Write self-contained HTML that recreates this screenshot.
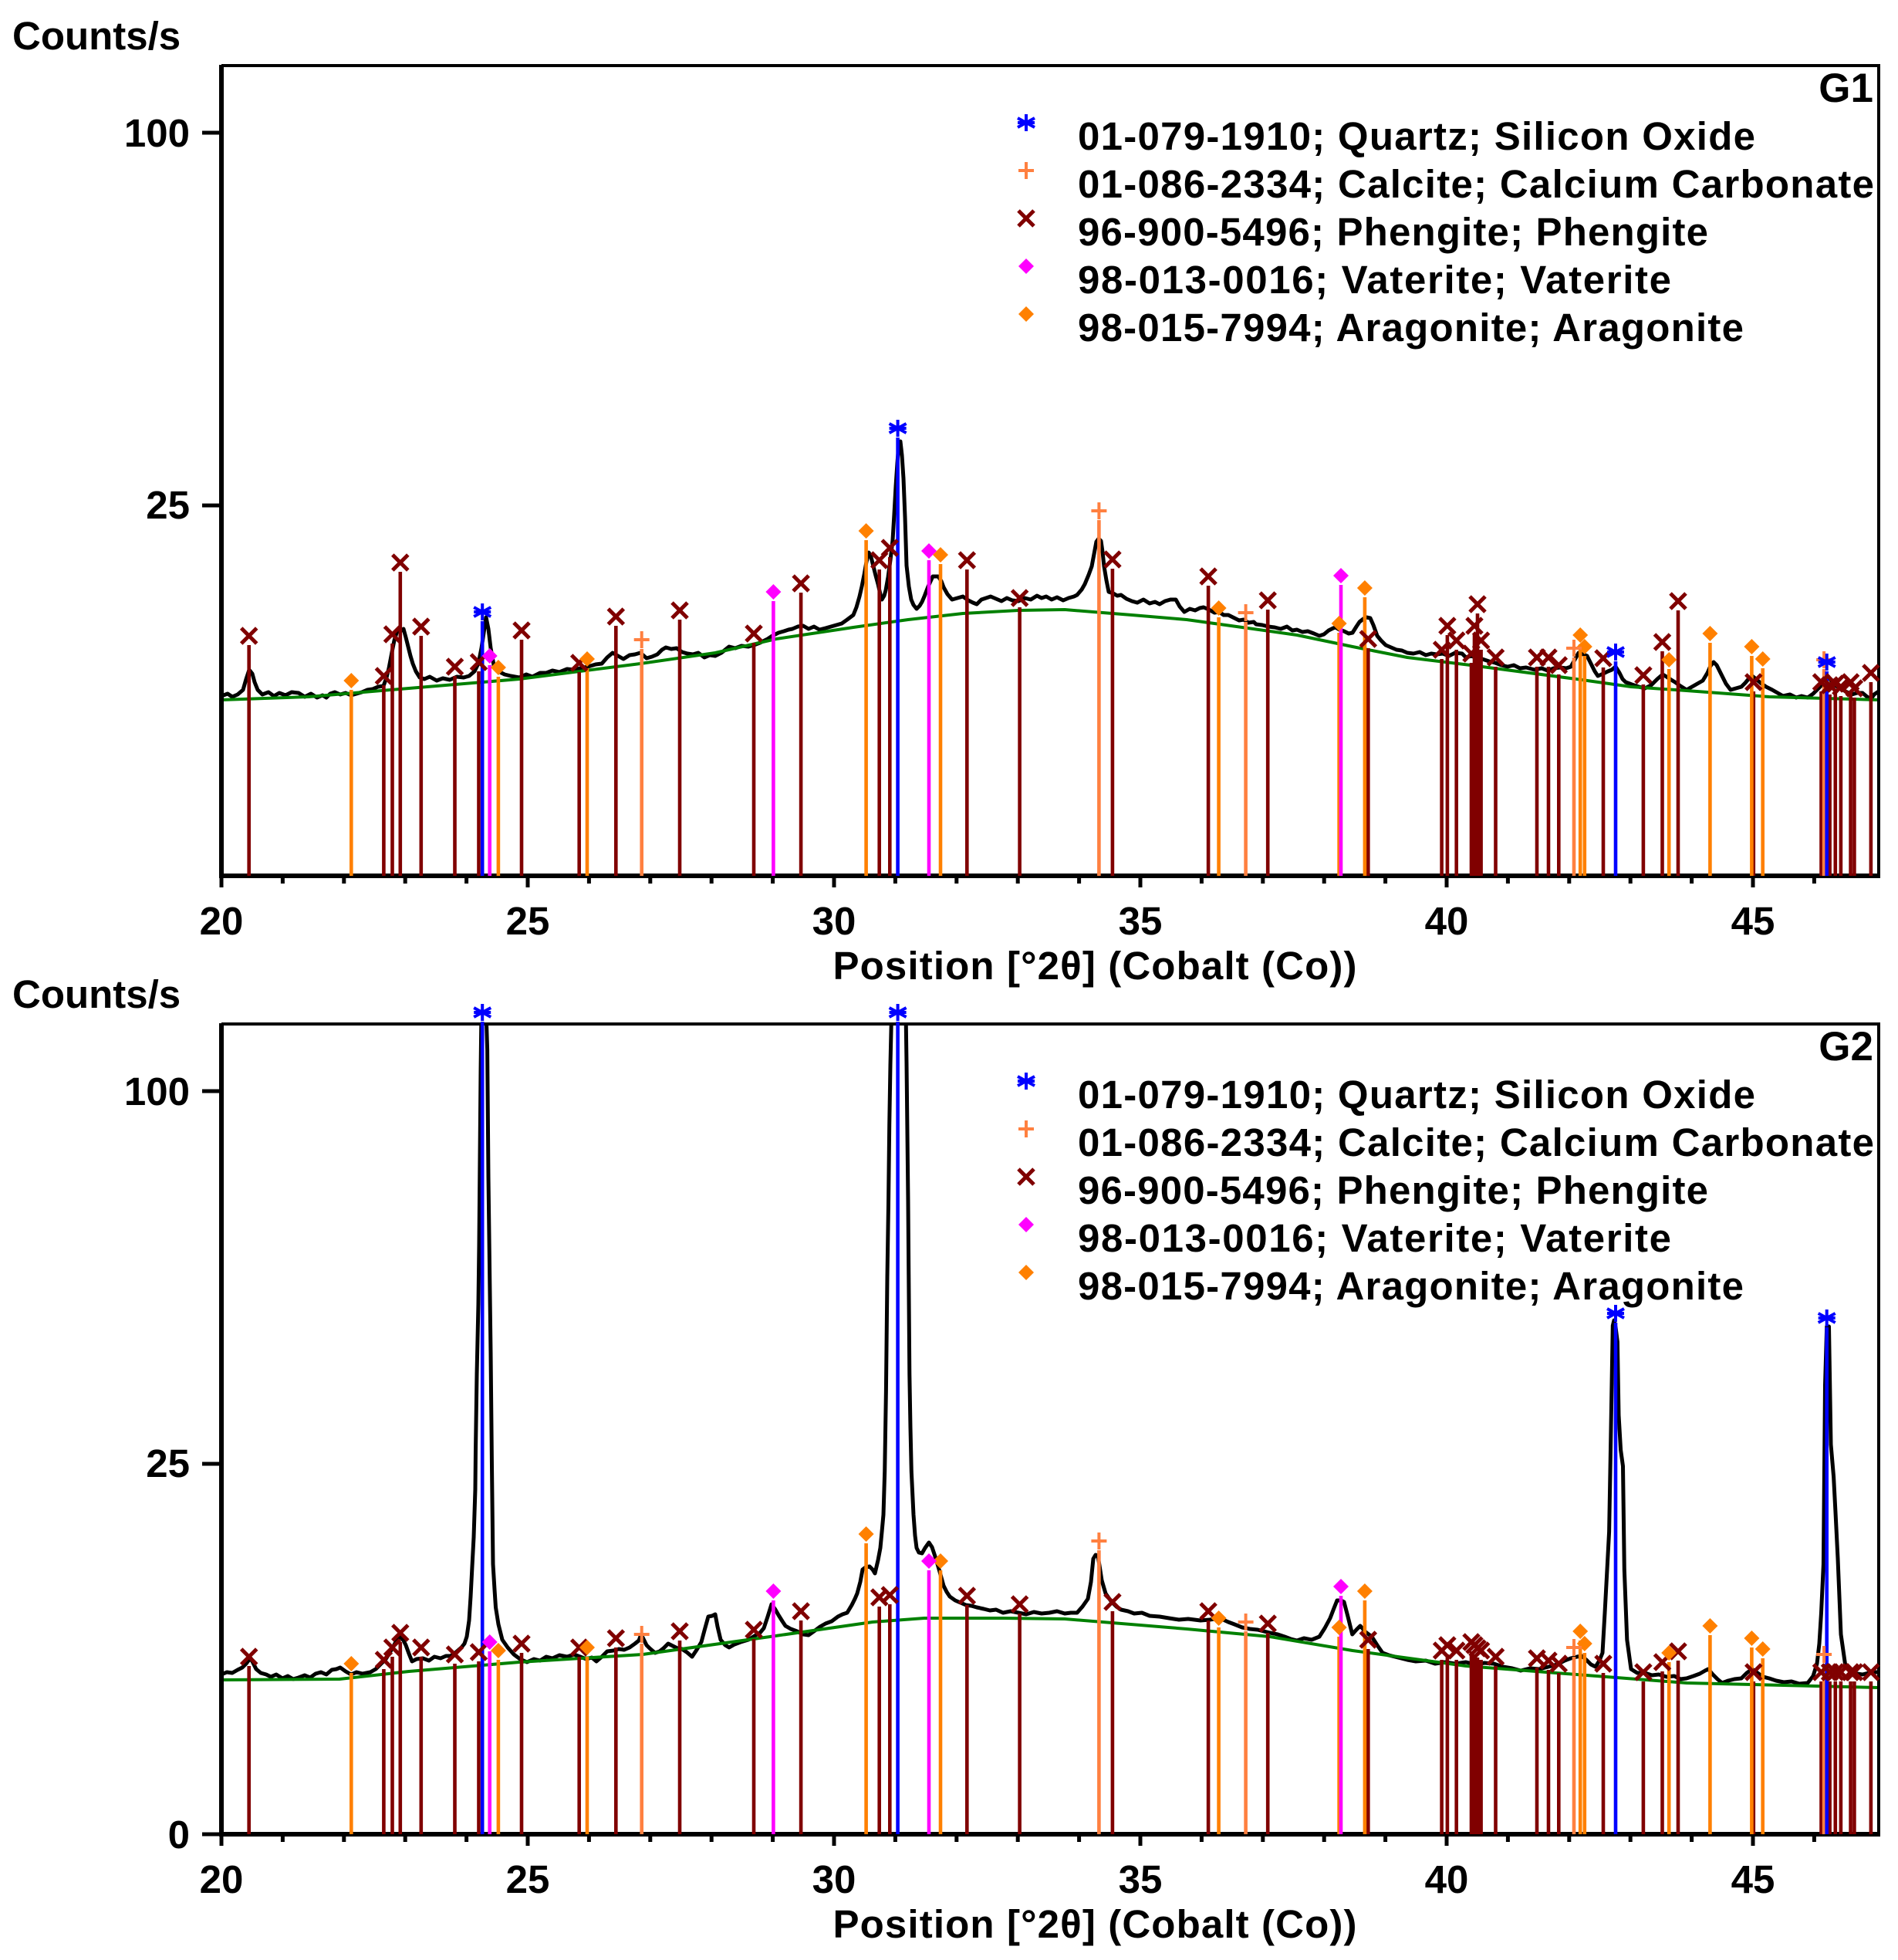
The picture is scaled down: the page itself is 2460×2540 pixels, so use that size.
<!DOCTYPE html>
<html><head><meta charset="utf-8"><style>html,body{margin:0;padding:0;background:#fff}svg{display:block}</style></head><body>
<svg xmlns="http://www.w3.org/2000/svg" xmlns:xlink="http://www.w3.org/1999/xlink" width="2460" height="2540" viewBox="0 0 2460 2540" font-family="'Liberation Sans', Arial, sans-serif" font-weight="bold">
<defs>
<clipPath id="c1"><rect x="287" y="85" width="2148" height="1050"/></clipPath>
<clipPath id="c2"><rect x="287" y="1327" width="2148" height="1050"/></clipPath>
<g id="mx" stroke="#800000" stroke-width="5" fill="none"><path d="M-10,-10L10,10M-10,10L10,-10"/></g>
<g id="mp" stroke="#FF8040" stroke-width="4" fill="none"><path d="M-10,0H10M0,-11V11"/></g>
<path id="mdv" d="M0,-10L10,0L0,10L-10,0Z" fill="#FF00FF"/>
<path id="mda" d="M0,-10L10,0L0,10L-10,0Z" fill="#FF8000"/>
<g id="mq" stroke="#0000FF" stroke-width="4" fill="none"><path d="M0,-11V11M-11,-6L11,6M-11,6L11,-6M-11,0H11"/></g>
<g id="xt" stroke="#000" stroke-width="5">
<path d="M287,1135V1150M684,1135V1150M1081,1135V1150M1478,1135V1150M1875,1135V1150M2272,1135V1150"/>
<path d="M366.4,1135V1145M445.8,1135V1145M525.2,1135V1145M604.6,1135V1145M763.4,1135V1145M842.8,1135V1145M922.2,1135V1145M1001.6,1135V1145M1160.4,1135V1145M1239.8,1135V1145M1319.2,1135V1145M1398.6,1135V1145M1557.4,1135V1145M1636.8,1135V1145M1716.2,1135V1145M1795.6,1135V1145M1954.4,1135V1145M2033.8,1135V1145M2113.2,1135V1145M2192.6,1135V1145M2351.4,1135V1145"/>
</g>
</defs>
<rect width="2460" height="2540" fill="#fff"/>

<!-- ================= PLOT 1 ================= -->
<g clip-path="url(#c1)" fill="none" stroke-linejoin="round">
<path stroke="#000" stroke-width="5" d="M287,902 L295,899 301,903 308,900 315,894 319,880 323,868 327,873 330,884 334,894 340,900 348,897 355,902 362,898 370,901 378,897 387,898 395,903 403,899 411,904 418,901 423,904 428,899 434,897 441,900 448,898 455,901 462,899 469,897 476,894 483,893 490,890 497,889 501,878 504,866 508,845 511,830 515,817 519,818 523,815 526,826 529,838 532,850 535,860 539,870 544,878 550,880 557,877 566,882 574,879 583,881 592,877 601,878 608,876 615,870 620,860 624,840 627,820 630,800 633,815 636,840 640,862 646,870 654,874 662,876 673,878 682,874 690,877 700,872 708,872 716,869 725,871 735,867 744,868 752,866 762,864 772,861 780,860 787,852 794,846 801,850 808,854 816,849 823,848 830,846 838,853 845,851 852,848 858,842 863,839 870,841 877,840 884,845 891,847 898,848 905,846 913,852 920,849 927,850 935,846 945,838 953,840 961,837 970,838 977,836 985,833 991,830 995,828 1001,824 1005,822 1009,820 1016,818 1022,816 1027,815 1034,812 1041,811 1048,815 1055,812 1062,816 1070,814 1077,812 1084,810 1091,808 1098,803 1106,797 1110,787 1114,773 1117,760 1120,745 1123,728 1126,716 1129,722 1132,734 1135,746 1138,757 1141,770 1143,777 1146,772 1148,765 1151,748 1154,726 1157,700 1159,666 1161,630 1163,600 1165,575 1167,572 1169,590 1171,620 1173,670 1175,733 1178,760 1181,777 1184,784 1188,789 1192,785 1195,780 1198,773 1203,760 1209,747 1216,747 1220,753 1223,761 1228,770 1234,777 1241,775 1248,773 1255,778 1261,781 1266,783 1272,777 1278,775 1284,773 1291,776 1298,779 1305,775 1312,778 1320,779 1328,775 1336,777 1344,772 1350,775 1356,773 1363,777 1370,774 1378,778 1385,775 1392,773 1396,771 1402,764 1406,757 1411,745 1415,734 1418,718 1421,702 1424,698 1427,701 1429,715 1431,734 1434,752 1437,767 1443,769 1448,772 1453,771 1460,776 1467,779 1474,781 1482,777 1490,782 1497,780 1503,783 1510,779 1517,777 1524,777 1529,786 1535,793 1542,789 1549,791 1555,788 1560,787 1567,790 1574,794 1580,793 1586,797 1592,797 1600,801 1606,804 1612,803 1618,807 1625,806 1628,809 1636,810 1644,812 1652,813 1660,815 1668,812 1675,817 1681,816 1688,819 1695,818 1703,821 1710,824 1716,822 1722,817 1728,814 1731,813 1736,816 1742,818 1748,821 1753,820 1758,812 1762,806 1767,802 1771,800 1776,801 1780,810 1785,824 1790,830 1796,836 1803,839 1810,842 1817,843 1824,846 1832,847 1840,845 1848,849 1855,847 1862,848 1870,847 1878,850 1886,846 1895,847 1900,852 1907,850 1914,853 1921,854 1930,857 1938,859 1946,862 1954,864 1962,862 1970,866 1978,865 1989,868 1998,866 2006,869 2014,866 2022,865 2030,866 2036,864 2041,855 2046,846 2052,848 2057,850 2062,860 2067,870 2071,876 2078,873 2084,870 2089,868 2094,864 2099,872 2103,880 2107,884 2115,887 2124,890 2132,892 2140,888 2148,880 2155,874 2160,877 2166,881 2171,884 2178,889 2186,894 2193,890 2200,886 2207,882 2213,872 2217,863 2221,858 2225,862 2229,870 2232,876 2237,886 2243,894 2250,892 2257,890 2262,885 2267,879 2271,876 2276,880 2283,886 2289,890 2297,894 2304,898 2311,902 2320,900 2328,904 2335,902 2343,904 2350,899 2356,893 2361,888 2364,882 2368,876 2372,880 2375,885 2378,888 2385,892 2392,896 2400,900 2407,898 2414,898 2420,903 2425,906 2429,900 2435,896"/>
<path stroke="#008000" stroke-width="4" d="M287,907 L400,903 530,892 673,880 830,860 927,846 1006,828 1106,813 1177,803 1248,795 1320,791 1380,790 1467,797 1538,803 1610,813 1681,823 1753,838 1824,852 1906,862 2043,880 2114,890 2186,895 2293,903 2435,907"/>
</g>

<!-- box 1 -->
<g stroke="#000" fill="none">
<path stroke-width="4" d="M287,85H2435V1135"/>
<path stroke-width="6" d="M287,84V1138M284,1135H2437"/>
<path stroke-width="5" d="M262,172H287M262,655H287"/>
</g>
<use xlink:href="#xt" href="#xt"/>

<!-- sticks 1 -->
<g fill="none" stroke-width="4.6">
<path stroke="#800000" d="M322.7,836V1135 M497.4,888V1135 M508.5,834V1135 M518.8,741V1135 M545.8,824V1135 M589.5,876V1135 M620.5,870V1135 M676,829V1135 M750.7,871V1135 M798.3,811V1135 M881,803V1135 M977,833V1135 M1038.1,768V1135 M1139.7,738V1135 M1153.3,722V1135 M1253.3,738V1135 M1321.6,787V1135 M1441.9,737V1135 M1566.1,759V1135 M1643.2,790V1135 M1773.3,840V1135 M1868.6,854V1135 M1875.9,823V1135 M1887.7,842V1135 M1907,859V1135 M1911,823V1135 M1915,795V1135 M1919.6,842V1135 M1938.5,864V1135 M1992,864V1135 M2007,864V1135 M2020.3,874V1135 M2078,865V1135 M2129.9,887V1135 M2154.5,844V1135 M2175,791V1135 M2272.8,896V1135 M2360.5,896V1135 M2371.6,900V1135 M2378.8,898V1135 M2385.9,902V1135 M2398.6,896V1135 M2403.4,904V1135 M2424.9,884V1135"/>
<path stroke="#FF8000" d="M455.3,894V1135 M645.9,877V1135 M761,866V1135 M1122.6,700V1135 M1219,731V1135 M1579.6,800V1135 M1735.6,820V1135 M1768.9,774V1135 M2048.2,835V1135 M2053.8,850V1135 M2163.2,867V1135 M2216.4,833V1135 M2270.4,850V1135 M2284.7,866V1135"/>
<path stroke="#FF8040" d="M831.7,841V1135 M1424.4,674V1135 M1614.6,806V1135 M2040,852V1135 M2364.1,867V1135"/>
<path stroke="#FF00FF" d="M634.7,862V1135 M1002.4,779V1135 M1204,726V1135 M1738,758V1135"/>
<path stroke="#0000FF" d="M625.2,805V1135 M1163.6,567V1135 M2094,857V1135 M2367.7,870V1135"/>
</g>

<!-- markers 1 -->
<g>
<use href="#mx" x="322.7" y="824"/><use href="#mx" x="497.4" y="876"/><use href="#mx" x="508.5" y="822"/><use href="#mx" x="518.8" y="729"/><use href="#mx" x="545.8" y="812"/><use href="#mx" x="589.5" y="864"/><use href="#mx" x="620.5" y="858"/><use href="#mx" x="676" y="817"/><use href="#mx" x="750.7" y="859"/><use href="#mx" x="798.3" y="799"/><use href="#mx" x="881" y="791"/><use href="#mx" x="977" y="821"/><use href="#mx" x="1038.1" y="756"/><use href="#mx" x="1139.7" y="726"/><use href="#mx" x="1153.3" y="710"/><use href="#mx" x="1253.3" y="726"/><use href="#mx" x="1321.6" y="775"/><use href="#mx" x="1441.9" y="725"/><use href="#mx" x="1566.1" y="747"/><use href="#mx" x="1643.2" y="778"/><use href="#mx" x="1773.3" y="828"/><use href="#mx" x="1868.6" y="842"/><use href="#mx" x="1875.9" y="811"/><use href="#mx" x="1887.7" y="830"/><use href="#mx" x="1907" y="847"/><use href="#mx" x="1911" y="811"/><use href="#mx" x="1915" y="783"/><use href="#mx" x="1919.6" y="830"/><use href="#mx" x="1938.5" y="852"/><use href="#mx" x="1992" y="852"/><use href="#mx" x="2007" y="852"/><use href="#mx" x="2020.3" y="862"/><use href="#mx" x="2078" y="853"/><use href="#mx" x="2129.9" y="875"/><use href="#mx" x="2154.5" y="832"/><use href="#mx" x="2175" y="779"/><use href="#mx" x="2272.8" y="884"/><use href="#mx" x="2360.5" y="884"/><use href="#mx" x="2371.6" y="888"/><use href="#mx" x="2378.8" y="886"/><use href="#mx" x="2385.9" y="890"/><use href="#mx" x="2398.6" y="884"/><use href="#mx" x="2403.4" y="892"/><use href="#mx" x="2424.9" y="872"/>
<use href="#mda" x="455.3" y="882"/><use href="#mda" x="645.9" y="865"/><use href="#mda" x="761" y="854"/><use href="#mda" x="1122.6" y="688"/><use href="#mda" x="1219" y="719"/><use href="#mda" x="1579.6" y="788"/><use href="#mda" x="1735.6" y="808"/><use href="#mda" x="1768.9" y="762"/><use href="#mda" x="2048.2" y="823"/><use href="#mda" x="2053.8" y="838"/><use href="#mda" x="2163.2" y="855"/><use href="#mda" x="2216.4" y="821"/><use href="#mda" x="2270.4" y="838"/><use href="#mda" x="2284.7" y="854"/>
<use href="#mp" x="831.7" y="829"/><use href="#mp" x="1424.4" y="662"/><use href="#mp" x="1614.6" y="794"/><use href="#mp" x="2040" y="840"/><use href="#mp" x="2364.1" y="855"/>
<use href="#mdv" x="634.7" y="850"/><use href="#mdv" x="1002.4" y="767"/><use href="#mdv" x="1204" y="714"/><use href="#mdv" x="1738" y="746"/>
<use href="#mq" x="625.2" y="793"/><use href="#mq" x="1163.6" y="555"/><use href="#mq" x="2094" y="845"/><use href="#mq" x="2367.7" y="858"/>
<use href="#mq" x="1330" y="159"/><use href="#mp" x="1330" y="221"/><use href="#mx" x="1330" y="283"/><use href="#mdv" x="1330" y="345"/><use href="#mda" x="1330" y="407"/>
</g>

<!-- text 1 -->
<g fill="#000">
<text x="16" y="64" font-size="51">Counts/s</text>
<text x="246" y="190" font-size="51" text-anchor="end">100</text>
<text x="246" y="672" font-size="51" text-anchor="end">25</text>
<text x="2428" y="132" font-size="53" text-anchor="end">G1</text>
<text x="1397" y="194" font-size="51" textLength="878" lengthAdjust="spacing">01-079-1910; Quartz; Silicon Oxide</text>
<text x="1397" y="256" font-size="51" textLength="1032" lengthAdjust="spacing">01-086-2334; Calcite; Calcium Carbonate</text>
<text x="1397" y="318" font-size="51" textLength="817" lengthAdjust="spacing">96-900-5496; Phengite; Phengite</text>
<text x="1397" y="380" font-size="51" textLength="769" lengthAdjust="spacing">98-013-0016; Vaterite; Vaterite</text>
<text x="1397" y="442" font-size="51" textLength="863" lengthAdjust="spacing">98-015-7994; Aragonite; Aragonite</text>
<g font-size="51" text-anchor="middle">
<text x="287" y="1211">20</text><text x="684" y="1211">25</text><text x="1081" y="1211">30</text><text x="1478" y="1211">35</text><text x="1875" y="1211">40</text><text x="2272" y="1211">45</text>
</g>
<text x="1419" y="1269" font-size="51" text-anchor="middle" textLength="679" lengthAdjust="spacing">Position [°2θ] (Cobalt (Co))</text>
</g>

<!-- ================= PLOT 2 ================= -->
<g clip-path="url(#c2)" fill="none" stroke-linejoin="round">
<path stroke="#000" stroke-width="5" d="M287,2170 L294,2167 301,2168 308,2164 314,2161 319,2156 322,2152 325,2149 328,2155 332,2163 338,2168 345,2170 351,2173 358,2170 366,2175 373,2172 380,2176 387,2174 395,2171 402,2174 409,2169 416,2167 423,2170 430,2164 436,2163 441,2161 448,2166 455,2170 462,2167 470,2169 480,2167 487,2163 494,2156 500,2150 505,2142 509,2135 514,2126 519,2121 523,2126 526,2132 530,2143 534,2153 540,2150 548,2149 556,2152 563,2147 571,2149 578,2146 584,2146 590,2142 598,2135 602,2130 605,2121 608,2100 610,2069 612,2030 614,1992 616,1930 616.5,1879 618,1781 620,1690 621,1613 622,1500 623,1388 624,1310 630,1310 631.6,1360 633,1525 634.5,1640 636,1753 637.5,1900 639,2027 641,2060 642.5,2083 646,2105 651,2125 658,2135 666,2144 674,2150 683,2154 692,2150 700,2152 708,2147 716,2149 725,2145 735,2147 744,2144 752,2147 760,2150 767,2148 773,2153 780,2147 787,2140 795,2139 802,2137 809,2138 816,2135 823,2130 828,2126 831,2118 834,2124 838,2132 842,2136 849,2142 855,2140 860,2136 866,2130 872,2133 878,2136 884,2137 890,2141 897,2147 903,2138 909,2128 913,2113 918,2095 923,2094 927,2092 930,2108 934,2125 940,2132 945,2135 952,2131 960,2128 970,2125 978,2120 985,2116 990,2110 995,2095 1000,2079 1005,2086 1009,2093 1014,2101 1018,2107 1025,2111 1033,2114 1041,2118 1048,2119 1055,2114 1063,2108 1070,2104 1078,2101 1086,2095 1092,2092 1098,2090 1104,2080 1108,2072 1111,2065 1115,2050 1118,2034 1122,2031 1127,2030 1131,2034 1134,2039 1138,2022 1141,2006 1143,1985 1145,1963 1146.7,1907 1148.4,1802 1150,1655 1151.5,1560 1152.7,1458 1154,1380 1155.6,1310 1174,1310 1175,1378 1177,1557 1178.8,1781 1180,1850 1181.3,1907 1184,1963 1186,1990 1188,2006 1191,2012 1195,2013 1199,2006 1204,1999 1208,2005 1213,2020 1218,2037 1223,2055 1227,2063 1231,2069 1238,2074 1245,2077 1252,2080 1259,2081 1266,2083 1275,2085 1283,2087 1291,2086 1300,2090 1310,2088 1320,2090 1330,2092 1340,2089 1350,2091 1360,2090 1370,2088 1380,2091 1388,2090 1396,2090 1403,2082 1410,2072 1414,2050 1417,2020 1420,2015 1423,2016 1426,2035 1428,2048 1433,2065 1440,2075 1447,2082 1453,2086 1462,2088 1470,2091 1480,2090 1490,2094 1503,2095 1515,2097 1528,2099 1540,2098 1556,2100 1568,2099 1581,2097 1592,2102 1600,2105 1610,2109 1620,2111 1630,2112 1646,2116 1656,2118 1665,2121 1673,2124 1681,2126 1690,2123 1700,2125 1710,2121 1717,2110 1724,2097 1729,2084 1733,2074 1738,2074 1742,2076 1747,2095 1752.7,2118 1758,2112 1763,2107 1770,2115 1778,2121 1785,2132 1792,2142 1800,2145 1812,2148 1824,2151 1835,2153 1848,2152 1860,2156 1873,2154 1886,2156 1900,2154 1912,2157 1924,2155 1936,2156 1948,2160 1960,2162 1971,2165 1983,2162 1995,2163 2007,2160 2018,2157 2028,2152 2036,2149 2044,2147 2050,2146 2056,2151 2062,2157 2068,2160 2073,2152 2077,2142 2080,2090 2083,2034 2085.6,1985 2088,1851 2090.3,1718 2092,1711 2094,1720 2096.4,1739 2098,1834 2100.6,1879 2103.5,1900 2105.3,2034 2108.8,2125 2114,2163 2122,2168 2132,2168 2141,2171 2150,2170 2160,2173 2170,2172 2178,2176 2186,2175 2195,2172 2203,2169 2210,2165 2214,2163 2220,2170 2226,2176 2232,2181 2240,2178 2248,2176 2257,2175 2264,2168 2271,2163 2278,2168 2285,2173 2293,2175 2302,2178 2312,2180 2322,2179 2332,2182 2343,2181 2350,2172 2355,2156 2358,2130 2360.5,2090 2363.4,2027 2365.5,1795 2367.7,1719 2370.5,1719 2373,1872 2376.6,1914 2379,1960 2382,2020 2386,2118 2392,2160 2400,2167 2407,2169 2414,2170 2422,2168 2428,2167 2435,2167"/>
<path stroke="#008000" stroke-width="4" d="M287,2177 L440,2176 530,2166 673,2154 833,2144 998,2121 1131,2102 1198,2097 1300,2097 1380,2098 1538,2111 1646,2121 1753,2139 1900,2159 2043,2170 2186,2181 2435,2187"/>
</g>

<!-- box 2 -->
<g stroke="#000" fill="none">
<path stroke-width="4" d="M287,1327H2435V2377"/>
<path stroke-width="6" d="M287,1326V2380M284,2377H2437"/>
<path stroke-width="5" d="M262,1414H287M262,1897H287M262,2377H287"/>
</g>
<use href="#xt" y="1242"/>

<!-- sticks 2 -->
<g fill="none" stroke-width="4.6">
<path stroke="#800000" d="M322.7,2159V2377 M497.4,2163V2377 M508.5,2147V2377 M518.8,2128V2377 M545.8,2147V2377 M589.5,2156V2377 M620.5,2153V2377 M676,2142V2377 M750.7,2147V2377 M798.3,2135V2377 M881,2126V2377 M977,2124V2377 M1038.1,2100V2377 M1139.7,2082V2377 M1153.3,2079V2377 M1253.3,2080V2377 M1321.6,2091V2377 M1441.9,2088V2377 M1566.1,2100V2377 M1643.2,2116V2377 M1773.3,2137V2377 M1868.6,2151V2377 M1875.9,2144V2377 M1887.7,2151V2377 M1907,2140V2377 M1911,2144V2377 M1915,2148V2377 M1919.6,2151V2377 M1938.5,2159V2377 M1992,2161V2377 M2007,2164V2377 M2020.3,2168V2377 M2078,2168V2377 M2129.9,2179V2377 M2154.5,2166V2377 M2175,2152V2377 M2272.8,2179V2377 M2360.5,2179V2377 M2371.6,2179V2377 M2378.8,2179V2377 M2385.9,2179V2377 M2398.6,2179V2377 M2403.4,2179V2377 M2424.9,2179V2377"/>
<path stroke="#FF8000" d="M455.3,2168V2377 M645.9,2151V2377 M761,2147V2377 M1122.6,2000V2377 M1219,2035V2377 M1579.6,2109V2377 M1735.6,2121V2377 M1768.9,2074V2377 M2048.2,2126V2377 M2053.8,2142V2377 M2163.2,2154V2377 M2216.4,2119V2377 M2270.4,2135V2377 M2284.7,2149V2377"/>
<path stroke="#FF8040" d="M831.7,2130V2377 M1424.4,2009V2377 M1614.6,2114V2377 M2040,2147V2377 M2364.1,2156V2377"/>
<path stroke="#FF00FF" d="M634.7,2140V2377 M1002.4,2074V2377 M1204,2035V2377 M1738,2068V2377"/>
<path stroke="#0000FF" d="M625.2,1324V2377 M1163.6,1324V2377 M2094,1714V2377 M2367.7,1720V2377"/>
</g>

<!-- markers 2 -->
<g>
<use href="#mx" x="322.7" y="2147"/><use href="#mx" x="497.4" y="2151"/><use href="#mx" x="508.5" y="2135"/><use href="#mx" x="518.8" y="2116"/><use href="#mx" x="545.8" y="2135"/><use href="#mx" x="589.5" y="2144"/><use href="#mx" x="620.5" y="2141"/><use href="#mx" x="676" y="2130"/><use href="#mx" x="750.7" y="2135"/><use href="#mx" x="798.3" y="2123"/><use href="#mx" x="881" y="2114"/><use href="#mx" x="977" y="2112"/><use href="#mx" x="1038.1" y="2088"/><use href="#mx" x="1139.7" y="2070"/><use href="#mx" x="1153.3" y="2067"/><use href="#mx" x="1253.3" y="2068"/><use href="#mx" x="1321.6" y="2079"/><use href="#mx" x="1441.9" y="2076"/><use href="#mx" x="1566.1" y="2088"/><use href="#mx" x="1643.2" y="2104"/><use href="#mx" x="1773.3" y="2125"/><use href="#mx" x="1868.6" y="2139"/><use href="#mx" x="1875.9" y="2132"/><use href="#mx" x="1887.7" y="2139"/><use href="#mx" x="1907" y="2128"/><use href="#mx" x="1911" y="2132"/><use href="#mx" x="1915" y="2136"/><use href="#mx" x="1919.6" y="2139"/><use href="#mx" x="1938.5" y="2147"/><use href="#mx" x="1992" y="2149"/><use href="#mx" x="2007" y="2152"/><use href="#mx" x="2020.3" y="2156"/><use href="#mx" x="2078" y="2156"/><use href="#mx" x="2129.9" y="2167"/><use href="#mx" x="2154.5" y="2154"/><use href="#mx" x="2175" y="2140"/><use href="#mx" x="2272.8" y="2167"/><use href="#mx" x="2360.5" y="2167"/><use href="#mx" x="2371.6" y="2167"/><use href="#mx" x="2378.8" y="2167"/><use href="#mx" x="2385.9" y="2167"/><use href="#mx" x="2398.6" y="2167"/><use href="#mx" x="2403.4" y="2167"/><use href="#mx" x="2424.9" y="2167"/>
<use href="#mda" x="455.3" y="2156"/><use href="#mda" x="645.9" y="2139"/><use href="#mda" x="761" y="2135"/><use href="#mda" x="1122.6" y="1988"/><use href="#mda" x="1219" y="2023"/><use href="#mda" x="1579.6" y="2097"/><use href="#mda" x="1735.6" y="2109"/><use href="#mda" x="1768.9" y="2062"/><use href="#mda" x="2048.2" y="2114"/><use href="#mda" x="2053.8" y="2130"/><use href="#mda" x="2163.2" y="2142"/><use href="#mda" x="2216.4" y="2107"/><use href="#mda" x="2270.4" y="2123"/><use href="#mda" x="2284.7" y="2137"/>
<use href="#mp" x="831.7" y="2118"/><use href="#mp" x="1424.4" y="1997"/><use href="#mp" x="1614.6" y="2102"/><use href="#mp" x="2040" y="2135"/><use href="#mp" x="2364.1" y="2144"/>
<use href="#mdv" x="634.7" y="2128"/><use href="#mdv" x="1002.4" y="2062"/><use href="#mdv" x="1204" y="2023"/><use href="#mdv" x="1738" y="2056"/>
<use href="#mq" x="625.2" y="1312"/><use href="#mq" x="1163.6" y="1312"/><use href="#mq" x="2094" y="1702"/><use href="#mq" x="2367.7" y="1708"/>
<use href="#mq" x="1330" y="1401"/><use href="#mp" x="1330" y="1463"/><use href="#mx" x="1330" y="1525"/><use href="#mdv" x="1330" y="1587"/><use href="#mda" x="1330" y="1649"/>
</g>

<!-- text 2 -->
<g fill="#000">
<text x="16" y="1306" font-size="51">Counts/s</text>
<text x="246" y="1432" font-size="51" text-anchor="end">100</text>
<text x="246" y="1914" font-size="51" text-anchor="end">25</text>
<text x="246" y="2395" font-size="51" text-anchor="end">0</text>
<text x="2428" y="1374" font-size="53" text-anchor="end">G2</text>
<text x="1397" y="1436" font-size="51" textLength="878" lengthAdjust="spacing">01-079-1910; Quartz; Silicon Oxide</text>
<text x="1397" y="1498" font-size="51" textLength="1032" lengthAdjust="spacing">01-086-2334; Calcite; Calcium Carbonate</text>
<text x="1397" y="1560" font-size="51" textLength="817" lengthAdjust="spacing">96-900-5496; Phengite; Phengite</text>
<text x="1397" y="1622" font-size="51" textLength="769" lengthAdjust="spacing">98-013-0016; Vaterite; Vaterite</text>
<text x="1397" y="1684" font-size="51" textLength="863" lengthAdjust="spacing">98-015-7994; Aragonite; Aragonite</text>
<g font-size="51" text-anchor="middle">
<text x="287" y="2453">20</text><text x="684" y="2453">25</text><text x="1081" y="2453">30</text><text x="1478" y="2453">35</text><text x="1875" y="2453">40</text><text x="2272" y="2453">45</text>
</g>
<text x="1419" y="2511" font-size="51" text-anchor="middle" textLength="679" lengthAdjust="spacing">Position [°2θ] (Cobalt (Co))</text>
</g>
</svg>
</body></html>
